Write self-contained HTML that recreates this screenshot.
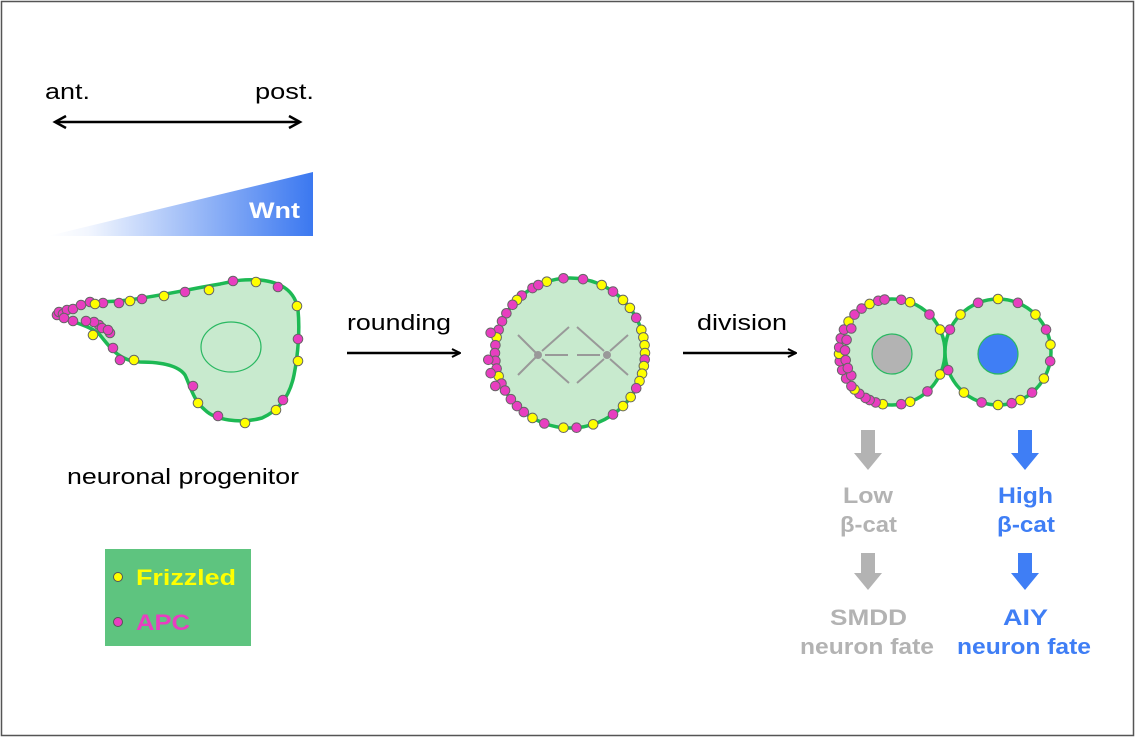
<!DOCTYPE html>
<html><head><meta charset="utf-8"><style>
html,body{margin:0;padding:0;background:#fff}
svg{display:block}
text{font-family:"Liberation Sans",Arial,sans-serif}
</style></head><body>
<svg id="s" width="1135" height="737" viewBox="0 0 1135 737" xmlns="http://www.w3.org/2000/svg">
<defs>
<linearGradient id="wg" x1="0" x2="1" y1="0" y2="0">
<stop offset="0" stop-color="#ffffff"/><stop offset="0.15" stop-color="#f2f6fe"/><stop offset="1" stop-color="#3b78f0"/></linearGradient>
<marker id="ah" markerWidth="10" markerHeight="10" refX="9" refY="5" orient="auto" markerUnits="userSpaceOnUse" viewBox="0 0 10 10"><path d="M1,1 L9,5 L1,9" fill="none" stroke="#000" stroke-width="2"/></marker>
</defs>
<rect x="1.5" y="1.5" width="1132" height="734" fill="#fff" stroke="#555" stroke-width="1.5"/>
<g font-size="22" lengthAdjust="spacingAndGlyphs">
<text x="45" y="99" textLength="45" lengthAdjust="spacingAndGlyphs">ant.</text>
<text x="255" y="99" textLength="59" lengthAdjust="spacingAndGlyphs">post.</text>
</g>
<line x1="57" y1="122" x2="300" y2="122" stroke="#000" stroke-width="2.5"/>
<path d="M66,116 L55,122 L66,128" fill="none" stroke="#000" stroke-width="2.5"/>
<path d="M289,116 L300,122 L289,128" fill="none" stroke="#000" stroke-width="2.5"/>
<polygon points="48,236 313,172 313,236" fill="url(#wg)"/>
<text x="249" y="218" font-size="22" font-weight="bold" fill="#fff" textLength="51" lengthAdjust="spacingAndGlyphs">Wnt</text>

<path d="M57,315 C70,305 90,302 120,301 C150,298 190,289 220,284 C235,281 240,279 260,280 C280,282 295,290 298,310 C300,330 298,355 294,375 C290,395 280,410 262,418 C240,424 215,420 205,410 C193,400 190,385 185,375 C178,365 160,362 140,362 C120,361 112,350 100,335 C90,325 70,322 57,315 Z" fill="#c8eace" stroke="#1db954" stroke-width="3.5"/>
<ellipse cx="231" cy="347" rx="30" ry="25" fill="none" stroke="#2ab862" stroke-width="1.2"/>
<g id="pd"></g>

<text x="67" y="484" font-size="22" textLength="232" lengthAdjust="spacingAndGlyphs">neuronal progenitor</text>

<text x="347" y="330" font-size="22" textLength="104" lengthAdjust="spacingAndGlyphs">rounding</text>
<line x1="347" y1="353" x2="460" y2="353" stroke="#000" stroke-width="2.5" marker-end="url(#ah)"/>
<text x="697" y="330" font-size="22" textLength="90" lengthAdjust="spacingAndGlyphs">division</text>
<line x1="683" y1="353" x2="796" y2="353" stroke="#000" stroke-width="2.5" marker-end="url(#ah)"/>

<circle cx="570" cy="353" r="75" fill="#c8eace" stroke="#1db954" stroke-width="3.5"/>
<g stroke="#999" stroke-width="2">
<line x1="518" y1="335" x2="538" y2="355"/><line x1="518" y1="375" x2="538" y2="355"/>
<line x1="545" y1="355" x2="568" y2="355"/><line x1="577" y1="355" x2="600" y2="355"/>
<line x1="542" y1="351" x2="569" y2="327"/><line x1="542" y1="359" x2="569" y2="383"/>
<line x1="577" y1="327" x2="604" y2="351"/><line x1="577" y1="383" x2="604" y2="359"/>
<line x1="610" y1="351" x2="628" y2="335"/><line x1="610" y1="359" x2="628" y2="375"/>
</g>
<circle cx="538" cy="355" r="4" fill="#999"/><circle cx="607" cy="355" r="4" fill="#999"/>

<circle cx="892" cy="352" r="53" fill="#c8eace" stroke="#1db954" stroke-width="3.5"/>
<circle cx="998" cy="352" r="53" fill="#c8eace" stroke="#1db954" stroke-width="3.5"/>
<circle cx="892" cy="354" r="20" fill="#b3b3b3" stroke="#2ab862" stroke-width="1.2"/>
<circle cx="998" cy="354" r="20" fill="#3f7ef5" stroke="#2ab862" stroke-width="1.2"/>
<g id="cd"></g>

<polygon points="861,430 875,430 875,453 882,453 868,470 854,453 861,453" fill="#b3b3b3"/>
<polygon points="861,553 875,553 875,573 882,573 868,590 854,573 861,573" fill="#b3b3b3"/>
<polygon points="1018,430 1032,430 1032,453 1039,453 1025,470 1011,453 1018,453" fill="#3f7ef5"/>
<polygon points="1018,553 1032,553 1032,573 1039,573 1025,590 1011,573 1018,573" fill="#3f7ef5"/>
<g font-size="22" font-weight="bold">
<text x="843" y="503" fill="#b3b3b3" textLength="50" lengthAdjust="spacingAndGlyphs">Low</text>
<text x="840" y="532" fill="#b3b3b3" textLength="57" lengthAdjust="spacingAndGlyphs">β-cat</text>
<text x="830" y="625" fill="#b3b3b3" textLength="77" lengthAdjust="spacingAndGlyphs">SMDD</text>
<text x="800" y="654" fill="#b3b3b3" textLength="134" lengthAdjust="spacingAndGlyphs">neuron fate</text>
<text x="998" y="503" fill="#3f7ef5" textLength="55" lengthAdjust="spacingAndGlyphs">High</text>
<text x="997" y="532" fill="#3f7ef5" textLength="58" lengthAdjust="spacingAndGlyphs">β-cat</text>
<text x="1003" y="625" fill="#3f7ef5" textLength="45" lengthAdjust="spacingAndGlyphs">AIY</text>
<text x="957" y="654" fill="#3f7ef5" textLength="134" lengthAdjust="spacingAndGlyphs">neuron fate</text>
</g>

<rect x="105" y="549" width="146" height="97" fill="#5ec47f"/>
<circle cx="118" cy="577" r="4.5" fill="#ffff00" stroke="#555" stroke-width="1"/>
<circle cx="118" cy="622" r="4.5" fill="#e83ec0" stroke="#555" stroke-width="1"/>
<text x="136" y="585" font-size="22" font-weight="bold" fill="#ffff00" textLength="100" lengthAdjust="spacingAndGlyphs">Frizzled</text>
<text x="136" y="630" font-size="22" font-weight="bold" fill="#e83ec0" textLength="54" lengthAdjust="spacingAndGlyphs">APC</text>
</svg>
<script>
var NS="http://www.w3.org/2000/svg";
function dot(g,x,y,c){var e=document.createElementNS(NS,"circle");e.setAttribute("cx",x);e.setAttribute("cy",y);e.setAttribute("r",4.8);e.setAttribute("fill",c=="y"?"#ffff00":"#e83ec0");e.setAttribute("stroke","#666");e.setAttribute("stroke-width","1");g.appendChild(e);}
var pd=document.getElementById("pd");
var M=[[57,315],[59,312],[63,314],[67,310],[73,309],[81,305],[90,302],[103,303],[119,303],[142,299],[185,292],[233,281],[278,287],[298,339],[283,400],[218,416],[113,348],[120,360],[110,333],[99,325],[94,322],[86,321],[64,318],[73,321],[102,328],[108,330],[193,386]];
var Y=[[95,304],[130,301],[164,296],[209,290],[256,282],[297,306],[298,361],[276,410],[245,423],[198,403],[134,360],[93,335]];
M.forEach(function(p){dot(pd,p[0],p[1],"m")});Y.forEach(function(p){dot(pd,p[0],p[1],"y")});
var cd=document.getElementById("cd");
function ring(cx,cy,r,list){list.forEach(function(a){var t=a[0]*Math.PI/180;dot(cd,cx+r*Math.cos(t),cy+r*Math.sin(t),a[1]);});}
ring(570,353,75,[[-95,"m"],[-108,"y"],[-80,"m"],[-65,"y"],[-55,"m"],[-45,"y"],[-37,"y"],[-28,"m"],[-18,"y"],[-12,"y"],[-6,"y"],[0,"y"],[5,"m"],[10,"y"],[16,"y"],[22,"y"],[28,"m"],[36,"y"],[45,"y"],[55,"m"],[72,"y"],[85,"m"],[95,"y"],[110,"m"],[120,"y"],[128,"m"],[135,"m"],[142,"m"],[-120,"m"],[-130,"m"],[-135,"y"],[-140,"m"],[-148,"m"],[-155,"m"],[-162,"m"],[-168,"y"],[-174,"m"],[180,"m"],[174,"m"],[168,"m"],[162,"y"],[156,"m"],[150,"m"],[-115,"m"]]);
ring(566,353,78,[[-165,"m"],[175,"m"],[165,"m"],[155,"m"]]);
ring(892,352,53,[[-80,"m"],[-70,"y"],[-45,"m"],[-25,"y"],[25,"y"],[48,"m"],[70,"y"],[80,"m"],[100,"y"],[108,"m"],[115,"m"],[120,"m"],[128,"m"],[135,"y"],[140,"m"],[150,"m"],[160,"m"],[170,"m"],[178,"y"],[-175,"m"],[-165,"m"],[-155,"m"],[-145,"y"],[-135,"m"],[-125,"m"],[-115,"y"],[-105,"m"],[-98,"m"]]);
ring(892,352,47,[[-165,"m"],[-150,"m"],[170,"m"],[150,"m"],[-178,"m"],[160,"m"]]);
ring(998,352,53,[[-90,"y"],[-112,"m"],[-68,"m"],[-45,"y"],[-25,"m"],[-8,"y"],[10,"m"],[30,"y"],[50,"m"],[65,"y"],[75,"m"],[90,"y"],[108,"m"],[130,"y"],[160,"m"],[-155,"m"],[-135,"y"]]);
</script>
</body></html>
